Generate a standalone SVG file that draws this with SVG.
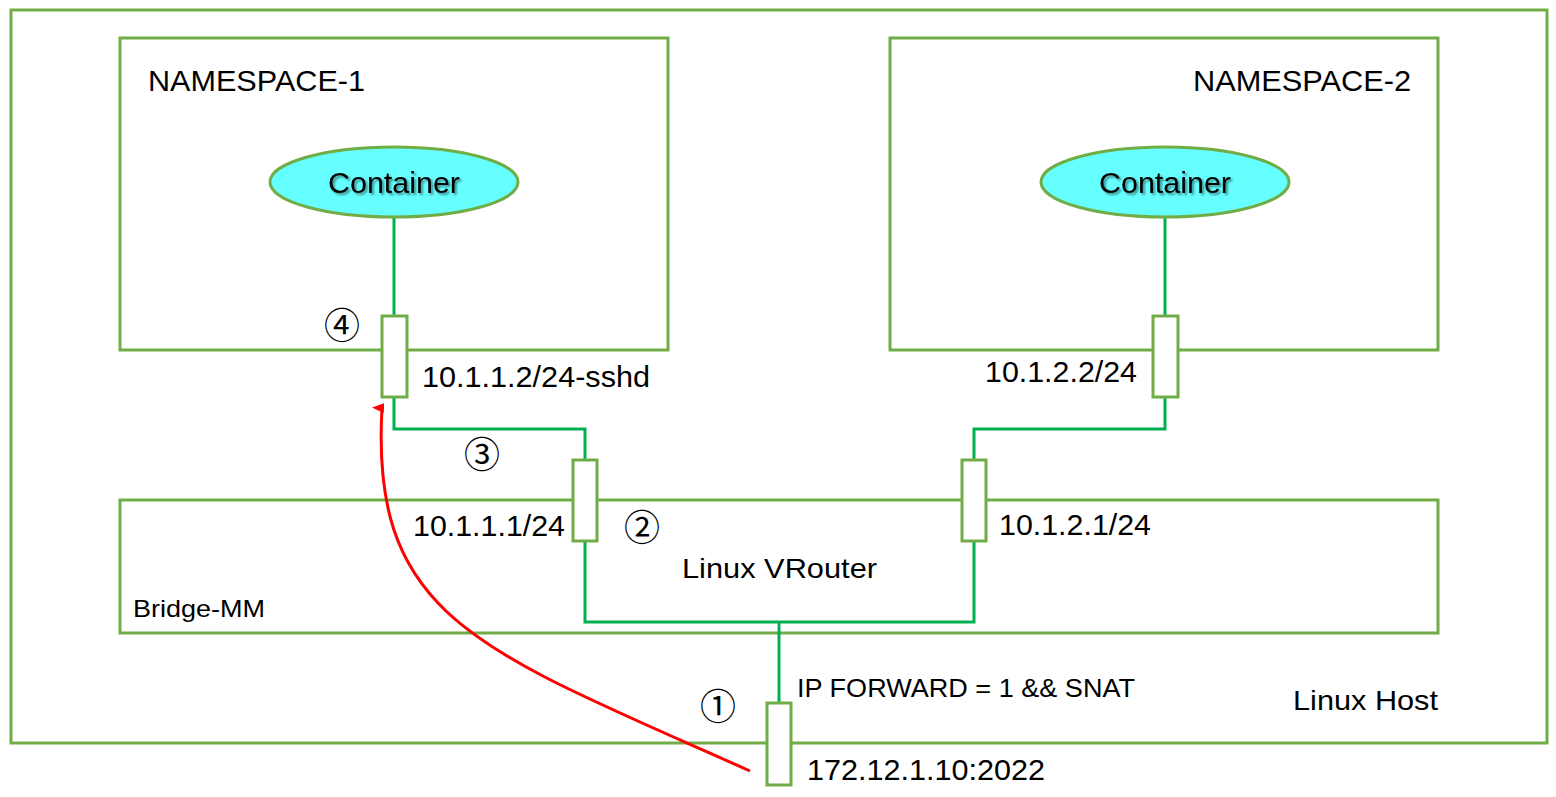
<svg xmlns="http://www.w3.org/2000/svg" width="1556" height="797" viewBox="0 0 1556 797">
<style>
.box{fill:none;stroke:#70AD47;stroke-width:3}
.port{fill:#FFFFFF;stroke:#70AD47;stroke-width:3}
.ell{fill:#66FFFF;stroke:#70AD47;stroke-width:3}
.wire{fill:none;stroke:#00B050;stroke-width:3}
.t{font-family:"Liberation Sans",Arial,sans-serif;fill:#000}
.c{font-family:"Noto Sans CJK SC","DejaVu Sans",sans-serif;fill:#000;font-size:36px;text-anchor:middle}
.ct{font-family:"Liberation Sans",Arial,sans-serif;font-size:30px;text-anchor:middle;fill:#000;filter:url(#sh)}
</style>
<defs>
<filter id="sh" x="-10%" y="-30%" width="130%" height="160%">
<feDropShadow dx="2" dy="2" stdDeviation="1" flood-color="#000" flood-opacity="0.45"/>
</filter>
<marker id="arr" markerWidth="12" markerHeight="12" refX="6" refY="10" orient="auto" markerUnits="userSpaceOnUse" viewBox="0 0 12 12">
<path d="M1,12 L6,0 L11,12 Z" fill="#FF0000"/>
</marker>
</defs>
<rect width="1556" height="797" fill="#FFFFFF"/>

<g id="host">
<rect class="box" x="11" y="10" width="1536" height="733"/>
<text class="t" x="1293" y="710" font-size="28" textLength="145" lengthAdjust="spacingAndGlyphs">Linux Host</text>
</g>

<g id="namespace-1">
<rect class="box" x="120" y="38" width="548" height="312"/>
<text class="t" x="148" y="91" font-size="30" textLength="217" lengthAdjust="spacingAndGlyphs">NAMESPACE-1</text>
</g>

<g id="namespace-2">
<rect class="box" x="890" y="38" width="548" height="312"/>
<text class="t" x="1193" y="91" font-size="30" textLength="218" lengthAdjust="spacingAndGlyphs">NAMESPACE-2</text>
</g>

<g id="bridge">
<rect class="box" x="120" y="500" width="1318" height="133"/>
<text class="t" x="133" y="617" font-size="24" textLength="132" lengthAdjust="spacingAndGlyphs">Bridge-MM</text>
<text class="t" x="682" y="578" font-size="28" textLength="195" lengthAdjust="spacingAndGlyphs">Linux VRouter</text>
</g>

<g id="connectors">
<path class="wire" d="M394,218 V316"/>
<path class="wire" d="M394,397 V429 H585 V460"/>
<path class="wire" d="M585,541 V622 H974 V541"/>
<path class="wire" d="M974,460 V429 H1165 V397"/>
<path class="wire" d="M1165,218 V316"/>
<path class="wire" d="M779,622 V703"/>
<path d="M750,771 C480,650 370,620 382,408" fill="none" stroke="#FF0000" stroke-width="3" marker-end="url(#arr)"/>
</g>

<g id="container-1">
<ellipse class="ell" cx="394" cy="182" rx="124" ry="35"/>
<text class="ct" x="394" y="193" textLength="132" lengthAdjust="spacingAndGlyphs">Container</text>
</g>

<g id="container-2">
<ellipse class="ell" cx="1165" cy="182" rx="124" ry="35"/>
<text class="ct" x="1165" y="193" textLength="132" lengthAdjust="spacingAndGlyphs">Container</text>
</g>

<g id="port-ns1">
<rect class="port" x="382" y="316" width="25" height="81"/>
<text class="t" x="422" y="387" font-size="30" textLength="228" lengthAdjust="spacingAndGlyphs">10.1.1.2/24-sshd</text>
</g>

<g id="port-ns2">
<rect class="port" x="1153" y="316" width="25" height="81"/>
<text class="t" x="985" y="382" font-size="29" textLength="152" lengthAdjust="spacingAndGlyphs">10.1.2.2/24</text>
</g>

<g id="port-br1">
<rect class="port" x="573" y="460" width="24" height="81"/>
<text class="t" x="413" y="536" font-size="29" textLength="152" lengthAdjust="spacingAndGlyphs">10.1.1.1/24</text>
</g>

<g id="port-br2">
<rect class="port" x="962" y="460" width="24" height="81"/>
<text class="t" x="999" y="535" font-size="29" textLength="152" lengthAdjust="spacingAndGlyphs">10.1.2.1/24</text>
</g>

<g id="port-host">
<rect class="port" x="767" y="703" width="24" height="82"/>
<text class="t" x="807" y="780" font-size="30" textLength="238" lengthAdjust="spacingAndGlyphs">172.12.1.10:2022</text>
<text class="t" x="797" y="697" font-size="25" textLength="338" lengthAdjust="spacingAndGlyphs">IP FORWARD = 1 &amp;&amp; SNAT</text>
</g>

<g id="steps">
<text class="c" x="342" y="339">④</text>
<text class="c" x="482" y="468">③</text>
<text class="c" x="642" y="541">②</text>
<text class="c" x="718" y="720">①</text>
</g>
</svg>
